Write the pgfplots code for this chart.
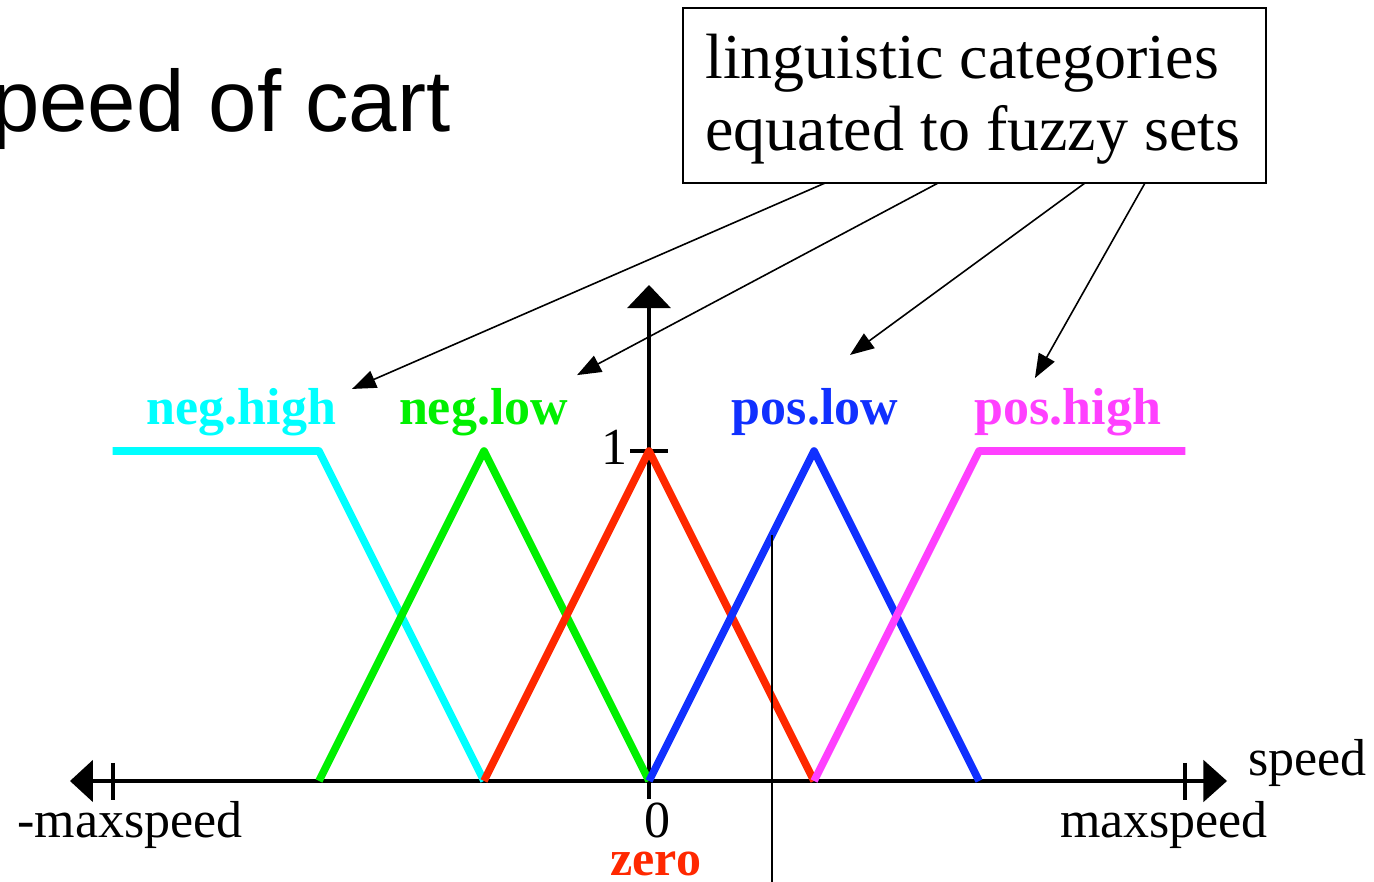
\documentclass[border=0pt]{standalone}
\usepackage{pgfplots}
\pgfplotsset{compat=1.18}
\usepackage{fontspec}
\setmainfont{Liberation Serif}
\newfontfamily\titlefont{Liberation Sans}
\usetikzlibrary{arrows.meta}
\definecolor{nhigh}{RGB}{0,255,255}
\definecolor{nlow}{RGB}{0,240,0}
\definecolor{zer}{RGB}{255,40,0}
\definecolor{plow}{RGB}{16,48,255}
\definecolor{phigh}{RGB}{255,64,255}
\newcommand{\fs}[1]{\fontsize{#1}{#1}\selectfont}
\begin{document}
\begin{tikzpicture}
\begin{axis}[name=a, scale only axis, width=687bp, height=441bp, hide axis, clip=false,
  xmin=-3.9333, xmax=4.3939, ymin=-0.30606, ymax=2.36667,
  every axis plot/.append style={line width=3.8bp, line join=round}]
 % speed axis with end ticks and filled arrowheads
 \draw[line width=2bp] (axis cs:-3.40,0) -- (axis cs:3.40,0);
 \fill (axis cs:-3.509,0) -- (axis cs:-3.37,0.064) -- (axis cs:-3.37,-0.064) -- cycle;
 \fill (axis cs:3.503,0) -- (axis cs:3.36,0.064) -- (axis cs:3.36,-0.064) -- cycle;
 \draw[line width=2bp] (axis cs:-3.25,0.055) -- (axis cs:-3.25,-0.058);
 \draw[line width=2bp] (axis cs:3.25,0.055) -- (axis cs:3.25,-0.058);
 % membership axis
 \draw[line width=2bp] (axis cs:0,-0.055) -- (axis cs:0,1.44);
 \fill (axis cs:0,1.503) -- (axis cs:-0.133,1.433) -- (axis cs:0.133,1.433) -- cycle;
 \draw[line width=2bp] (axis cs:-0.115,1) -- (axis cs:0.115,1);

 % fuzzy sets
 \addplot[nhigh] coordinates {(-3.25,1) (-2,1) (-1,0)};
 \addplot[nlow]  coordinates {(-2,0) (-1,1) (0,0)};
 \addplot[zer]   coordinates {(-1,0) (0,1) (1,0)};
 \addplot[plow]  coordinates {(0,0) (1,1) (2,0)};
 \addplot[phigh] coordinates {(1,0) (2,1) (3.25,1)};
 % sample speed
 \addplot[black, line width=1.1bp] coordinates {(0.745,0.745) (0.745,-0.40)};

 % set names
 \node[nhigh, anchor=base, font=\bfseries\fs{26bp}, inner sep=0] at (axis cs:-2.470,1.079) {neg.high};
 \node[nlow,  anchor=base, font=\bfseries\fs{26bp}, inner sep=0] at (axis cs:-1.003,1.079) {neg.low};
 \node[plow,  anchor=base, font=\bfseries\fs{26bp}, inner sep=0] at (axis cs:1.006,1.079) {pos.low};
 \node[phigh, anchor=base, font=\bfseries\fs{26bp}, inner sep=0] at (axis cs:2.539,1.079) {pos.high};
 \node[zer,   anchor=base, font=\bfseries\fs{25bp}, inner sep=0] at (axis cs:0.042,-0.285) {zero};

 % axis labels
 \node[anchor=base, font=\fs{26bp}, inner sep=0] at (axis cs:-3.145,-0.1697) {-maxspeed};
 \node[anchor=base, font=\fs{26bp}, inner sep=0] at (axis cs:3.121,-0.1697) {maxspeed};
 \node[anchor=base, font=\fs{26bp}, inner sep=0] at (axis cs:0.0515,-0.1697) {0};
 \node[anchor=base, font=\fs{26bp}, inner sep=0] at (axis cs:-0.209,0.958) {1};
 \node[anchor=base west, font=\fs{26bp}, inner sep=0] at (axis cs:3.630,0.018) {speed};

 % title, cut at the left edge
 \node[anchor=base east, font=\titlefont\fs{43.5bp}, inner sep=0] at (axis cs:-1.200,1.967) {Speed of cart};

 % callout box and arrows
 \draw[line width=1bp] (axis cs:0.206,1.812) rectangle (axis cs:3.739,2.342);
 \node[anchor=base west, font=\fs{32bp}, inner sep=0] at (axis cs:0.339,2.130) {linguistic categories};
 \node[anchor=base west, font=\fs{32bp}, inner sep=0] at (axis cs:0.339,1.912) {equated to fuzzy sets};
 \begin{scope}[line width=0.8bp, -{Triangle[length=12bp,width=9bp]}]
  \draw (axis cs:1.067,1.812) -- (axis cs:-1.80,1.188);
  \draw (axis cs:1.752,1.812) -- (axis cs:-0.436,1.230);
  \draw (axis cs:2.642,1.812) -- (axis cs:1.218,1.291);
  \draw (axis cs:3.006,1.812) -- (axis cs:2.339,1.221);
 \end{scope}
\end{axis}
\pgfresetboundingbox
\path[use as bounding box] (0,0) rectangle (687bp,441bp);
\end{tikzpicture}
\end{document}
